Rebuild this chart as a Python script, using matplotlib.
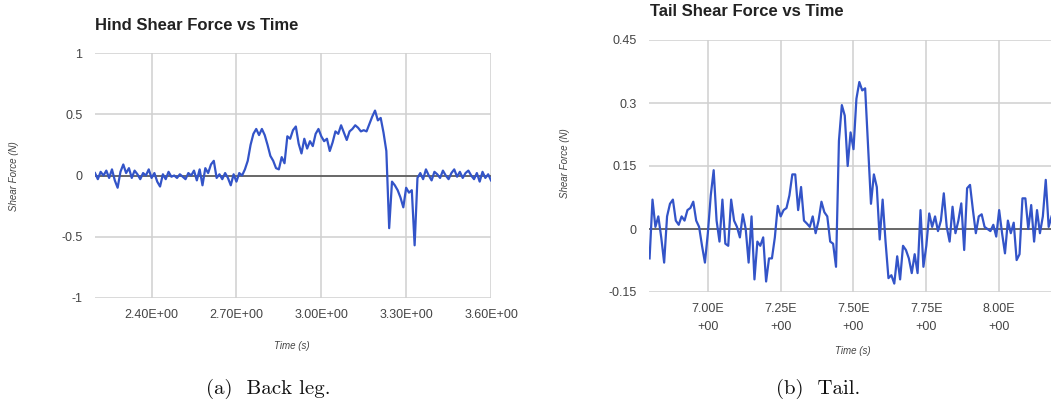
import matplotlib
matplotlib.use('Agg')
import matplotlib.pyplot as plt
import matplotlib.ticker as ticker

# Hind (back leg) shear force
hind_time = [
    2.20, 2.21, 2.22, 2.23, 2.24, 2.25, 2.26, 2.27, 2.28, 2.29,
    2.30, 2.31, 2.32, 2.33, 2.34, 2.35, 2.36, 2.37, 2.38, 2.39,
    2.40, 2.41, 2.42, 2.43, 2.44, 2.45, 2.46, 2.47, 2.48, 2.49,
    2.50, 2.51, 2.52, 2.53, 2.54, 2.55, 2.56, 2.57, 2.58, 2.59,
    2.60, 2.61, 2.62, 2.63, 2.64, 2.65, 2.66, 2.67, 2.68, 2.69,
    2.70, 2.71, 2.72, 2.73, 2.74, 2.75, 2.76, 2.77, 2.78, 2.79,
    2.80, 2.81, 2.82, 2.83, 2.84, 2.85, 2.86, 2.87, 2.88, 2.89,
    2.90, 2.91, 2.92, 2.93, 2.94, 2.95, 2.96, 2.97, 2.98, 2.99,
    3.00, 3.01, 3.02, 3.03, 3.04, 3.05, 3.06, 3.07, 3.08, 3.09,
    3.10, 3.11, 3.12, 3.13, 3.14, 3.15, 3.16, 3.17, 3.18, 3.19,
    3.20, 3.21, 3.22, 3.23, 3.24, 3.25, 3.26, 3.27, 3.28, 3.29,
    3.30, 3.31, 3.32, 3.33, 3.34, 3.35, 3.36, 3.37, 3.38, 3.39,
    3.40, 3.41, 3.42, 3.43, 3.44, 3.45, 3.46, 3.47, 3.48, 3.49,
    3.50, 3.51, 3.52, 3.53, 3.54, 3.55, 3.56, 3.57, 3.58, 3.59,
    3.60]
hind_force = [
    0.02, -0.03, 0.03, 0.00, 0.04, -0.02, 0.05, -0.04, -0.10, 0.03,
    0.09, 0.02, 0.06, -0.02, 0.04, 0.01, -0.03, 0.02, 0.00, 0.05,
    -0.02, 0.02, -0.05, -0.09, 0.01, -0.03, 0.03, -0.01, 0.00, -0.02,
    0.01, -0.01, -0.03, 0.02, 0.00, 0.04, -0.04, 0.05, -0.08, 0.06,
    0.02, 0.09, 0.12, -0.02, 0.01, -0.03, 0.02, -0.02, -0.08, 0.01,
    -0.05, 0.02, 0.00, 0.05, 0.12, 0.25, 0.34, 0.38, 0.33, 0.38,
    0.33, 0.25, 0.16, 0.12, 0.06, 0.05, 0.15, 0.10, 0.32, 0.30,
    0.37, 0.40, 0.26, 0.18, 0.30, 0.22, 0.28, 0.24, 0.34, 0.38,
    0.32, 0.28, 0.30, 0.20, 0.27, 0.36, 0.34, 0.41, 0.35, 0.29,
    0.36, 0.38, 0.41, 0.39, 0.36, 0.37, 0.36, 0.42, 0.48, 0.53,
    0.45, 0.47, 0.35, 0.20, -0.43, -0.05, -0.08, -0.12, -0.18, -0.26,
    -0.10, -0.14, -0.12, -0.57, -0.02, 0.02, -0.03, 0.05, 0.00, -0.04,
    0.03, 0.01, -0.02, 0.04, 0.00, -0.03, 0.02, 0.05, -0.01, 0.03,
    -0.02, 0.02, 0.04, 0.00, -0.03, 0.02, -0.05, 0.03, -0.02, 0.01,
    -0.04]

# Tail shear force
tail_time = [
    6.80, 6.81, 6.82, 6.83, 6.84, 6.85, 6.86, 6.87, 6.88, 6.89,
    6.90, 6.91, 6.92, 6.93, 6.94, 6.95, 6.96, 6.97, 6.98, 6.99,
    7.00, 7.01, 7.02, 7.03, 7.04, 7.05, 7.06, 7.07, 7.08, 7.09,
    7.10, 7.11, 7.12, 7.13, 7.14, 7.15, 7.16, 7.17, 7.18, 7.19,
    7.20, 7.21, 7.22, 7.23, 7.24, 7.25, 7.26, 7.27, 7.28, 7.29,
    7.30, 7.31, 7.32, 7.33, 7.34, 7.35, 7.36, 7.37, 7.38, 7.39,
    7.40, 7.41, 7.42, 7.43, 7.44, 7.45, 7.46, 7.47, 7.48, 7.49,
    7.50, 7.51, 7.52, 7.53, 7.54, 7.55, 7.56, 7.57, 7.58, 7.59,
    7.60, 7.61, 7.62, 7.63, 7.64, 7.65, 7.66, 7.67, 7.68, 7.69,
    7.70, 7.71, 7.72, 7.73, 7.74, 7.75, 7.76, 7.77, 7.78, 7.79,
    7.80, 7.81, 7.82, 7.83, 7.84, 7.85, 7.86, 7.87, 7.88, 7.89,
    7.90, 7.91, 7.92, 7.93, 7.94, 7.95, 7.96, 7.97, 7.98, 7.99,
    8.00, 8.01, 8.02, 8.03, 8.04, 8.05, 8.06, 8.07, 8.08, 8.09,
    8.10, 8.11, 8.12, 8.13, 8.14, 8.15, 8.16, 8.17, 8.18]
tail_force = [
    -0.07, 0.07, 0.005, 0.03, -0.02, -0.08, 0.03, 0.06, 0.07, 0.02,
    0.01, 0.03, 0.02, 0.045, 0.05, 0.065, 0.02, 0.005, -0.04, -0.08,
    -0.01, 0.08, 0.14, 0.02, -0.03, 0.07, -0.035, -0.04, 0.07, 0.02,
    0.005, -0.02, 0.035, 0.0, -0.08, 0.03, -0.12, -0.03, -0.04, -0.02,
    -0.125, -0.07, -0.07, -0.02, 0.055, 0.03, 0.045, 0.05, 0.08, 0.13,
    0.13, 0.045, 0.1, 0.02, 0.013, 0.005, 0.03, -0.01, 0.02, 0.065,
    0.04, 0.03, -0.03, -0.035, -0.09, 0.21, 0.295, 0.27, 0.15, 0.23,
    0.19, 0.31, 0.35, 0.33, 0.335, 0.2, 0.06, 0.13, 0.10, -0.025,
    0.07, -0.03, -0.117, -0.11, -0.13, -0.065, -0.12, -0.04, -0.05, -0.07,
    -0.105, -0.06, -0.105, 0.045, -0.09, -0.04, 0.037, 0.005, 0.03, -0.005,
    0.02, 0.085, 0.005, -0.03, 0.053, -0.01, 0.02, 0.061, -0.05, 0.097,
    0.105, 0.045, -0.01, 0.03, 0.035, 0.005, 0.0, -0.005, 0.01, -0.018,
    0.045, -0.01, -0.058, 0.02, -0.01, 0.015, -0.074, -0.06, 0.073, 0.073,
    0.0, 0.057, -0.03, 0.045, -0.01, 0.03, 0.117, 0.005, 0.03]

hind_xticks = [2.40, 2.70, 3.00, 3.30, 3.60]
hind_xlabels = ['2.40E+00', '2.70E+00', '3.00E+00', '3.30E+00', '3.60E+00']
hind_yticks = [-1, -0.5, 0, 0.5, 1]
hind_ylabels = ['-1', '-0.5', '0', '0.5', '1']
tail_xticks = [7.00, 7.25, 7.50, 7.75, 8.00]
tail_xlabels = ['7.00E\n+00', '7.25E\n+00', '7.50E\n+00', '7.75E\n+00', '8.00E\n+00']
tail_yticks = [-0.15, 0, 0.15, 0.3, 0.45]
tail_ylabels = ['-0.15', '0', '0.15', '0.3', '0.45']

W, H = 1051, 404
plt.rcParams['font.family'] = ['Liberation Sans', 'DejaVu Sans']
fig = plt.figure(figsize=(W / 100, H / 100), dpi=100)


def box(l, t, r, b):
    return [l / W, 1 - b / H, (r - l) / W, (b - t) / H]


def fx(x):
    return x / W


def fy(y):
    return 1 - y / H


LINE = '#3354c8'
GRID = '#d0d0d0'
TXT = '#444444'


def style(ax, xt, xl, yt, yl):
    for s in ax.spines.values():
        s.set_visible(False)
    ax.set_xticks(xt)
    ax.set_xticklabels(xl)
    ax.set_yticks(yt)
    ax.set_yticklabels(yl)
    ax.tick_params(length=0, labelsize=9, colors=TXT, pad=9)
    ax.grid(True, color=GRID, lw=1.1)
    ax.set_axisbelow(True)
    ax.axhline(0, color='#555555', lw=1.2, zorder=1)


ax1 = fig.add_axes(box(95, 53, 491, 298))
ax1.plot(hind_time, hind_force, color=LINE, lw=1.6, zorder=3)
ax1.set_xlim(2.20, 3.60)
ax1.set_ylim(-1, 1)
style(ax1, hind_xticks, hind_xlabels, hind_yticks, hind_ylabels)
ax1.xaxis.set_tick_params(pad=8)

ax2 = fig.add_axes(box(649, 40, 1051, 292))
ax2.plot(tail_time, tail_force, color=LINE, lw=1.6, zorder=3)
ax2.set_xlim(6.798, 8.178)
ax2.set_ylim(-0.15, 0.45)
style(ax2, tail_xticks, tail_xlabels, tail_yticks, tail_ylabels)
for lab in ax2.get_xticklabels():
    lab.set_linespacing(1.6)
ax2.xaxis.set_tick_params(pad=8)

# titles
fig.text(fx(95), fy(25), 'Hind Shear Force vs Time', fontsize=12, fontweight='bold',
         color='#222222', ha='left', va='center')
fig.text(fx(650), fy(11), 'Tail Shear Force vs Time', fontsize=12, fontweight='bold',
         color='#222222', ha='left', va='center')

# axis labels
fig.text(fx(14), fy(176), 'Shear Force (N)', fontsize=7, style='italic', color=TXT,
         rotation=90, ha='center', va='center')
fig.text(fx(565), fy(163), 'Shear Force (N)', fontsize=7, style='italic', color=TXT,
         rotation=90, ha='center', va='center')
fig.text(fx(292), fy(346), 'Time (s)', fontsize=7, style='italic', color=TXT,
         ha='center', va='center')
fig.text(fx(853), fy(351), 'Time (s)', fontsize=7, style='italic', color=TXT,
         ha='center', va='center')

# captions
fig.text(fx(268), fy(389), '(a)  Back leg.', fontsize=15, family='cmr10',
         color='#111111', ha='center', va='center')
fig.text(fx(818), fy(389), '(b)  Tail.', fontsize=15, family='cmr10',
         color='#111111', ha='center', va='center')

fig.savefig('out.png', dpi=100)
